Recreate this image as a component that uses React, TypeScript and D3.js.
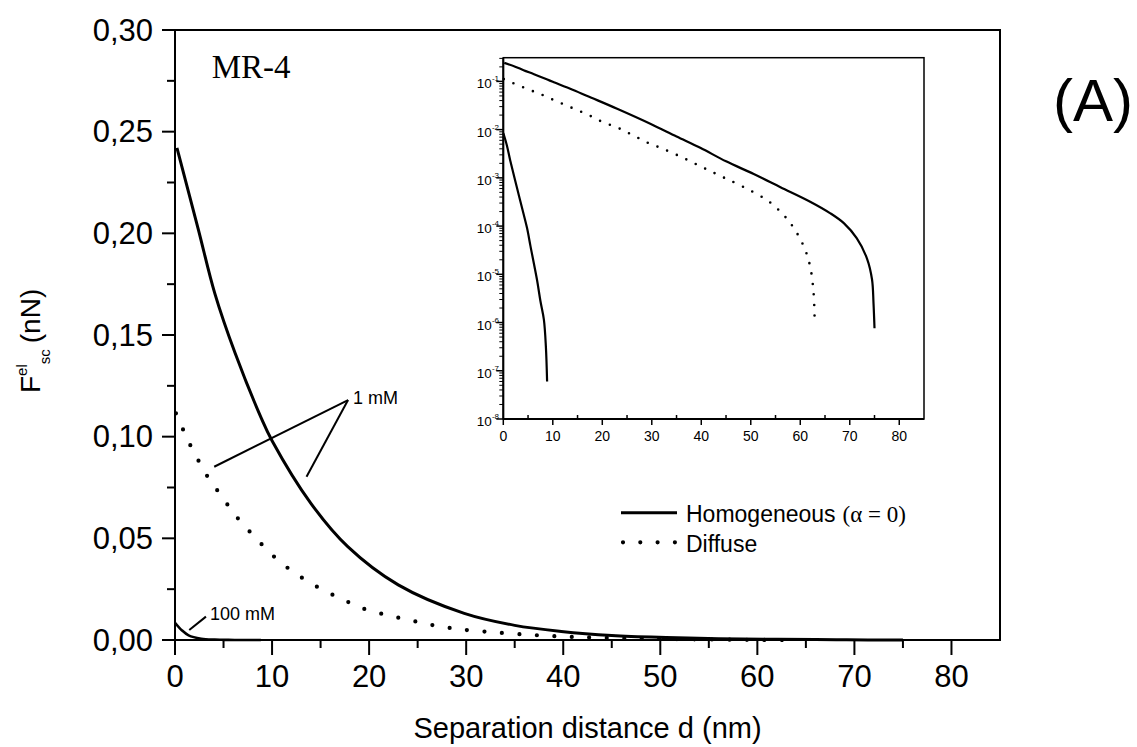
import React from "react";
import * as d3 from "d3";

// ---- data (separation distance d in nm, force in nN) ----
const homX = [0.2, 2.4, 4.1, 6.2, 8.9, 10, 14.0, 17.8, 23, 29.8, 35, 39.8, 45, 50.6, 56, 62, 66, 68.8, 71.4, 73.5, 74.5, 74.8, 75];
const homY = [0.242, 0.202, 0.1705, 0.141, 0.109, 0.098, 0.0672, 0.0459, 0.0271, 0.0131, 0.0072, 0.0042, 0.0022, 0.0012, 0.00064, 0.00032, 0.000186, 0.000115, 0.000056, 0.000021, 0.0000078, 0.0000025, 0.00000076];

const difX = [0.1, 0.85, 1.65, 2.57, 3.53, 4.8, 6.0, 7.4, 9.0, 10.6, 12.3, 14.0, 15.7, 17.4, 19.0, 20.75, 22.5, 24.2, 25.7, 27.4, 29.1, 32, 36, 40, 44, 48.6, 53.9, 58, 60.7, 62, 62.7, 62.9];
const difY = [0.1115, 0.1033, 0.0951, 0.0869, 0.079, 0.0708, 0.0626, 0.0549, 0.0467, 0.0393, 0.0331, 0.0279, 0.0235, 0.0197, 0.0161, 0.0136, 0.0115, 0.0098, 0.0081, 0.0066, 0.0054, 0.0041, 0.0027, 0.0017, 0.00108, 0.00064, 0.00031, 0.000115, 0.000038, 0.0000145, 0.000004, 0.00000115];

const h100X = [0, 0.7, 1.4, 2.7, 4.1, 4.8, 5.5, 6.8, 7.5, 8.2, 8.6, 8.85];
const h100Y = [0.0085, 0.0048, 0.0023, 0.00066, 0.000178, 0.000091, 0.000038, 0.0000078, 0.0000028, 0.00000115, 0.00000032, 0.00000006];

const xTicksMain = [0, 10, 20, 30, 40, 50, 60, 70, 80];
const xMinorMain = [5, 15, 25, 35, 45, 55, 65, 75];
const yTicksMain = [0, 0.05, 0.1, 0.15, 0.2, 0.25, 0.3];
const yMinorMain = [0.025, 0.075, 0.125, 0.175, 0.225, 0.275];
const xTicksInset = [0, 10, 20, 30, 40, 50, 60, 70, 80];
const xMinorInset = [5, 15, 25, 35, 45, 55, 65, 75];
const yExpInset = [-8, -7, -6, -5, -4, -3, -2, -1];

// annotation anchor points in data units
const ann1mM = { text: "1 mM", tip: [17.83, 0.118], ends: [[4.04, 0.0852], [13.55, 0.0803]], label: [18.34, 0.1163] };
const ann100mM = { text: "100 mM", from: [1.47, 0.0049], to: [3.19, 0.0115], label: [3.6, 0.0098] };

const SANS = "'Liberation Sans', Arial, Helvetica, sans-serif";
const SERIF = "'Liberation Serif', 'Times New Roman', serif";

export default function App() {
  const W = 1137, H = 747;
  const x = d3.scaleLinear().domain([0, 85]).range([175, 1000]);
  const y = d3.scaleLinear().domain([0, 0.3]).range([640, 30]);
  const xi = d3.scaleLinear().domain([0, 85]).range([503.3, 924]);
  const yi = d3.scaleLog().domain([1e-8, 0.31]).range([419, 57.7]);

  const zip = (a: number[], b: number[]) => a.map((v, i) => [v, b[i]] as [number, number]);
  const lineMain = d3.line<[number, number]>().x(d => x(d[0])).y(d => y(d[1])).curve(d3.curveCatmullRom.alpha(0.5));
  const lineIn = d3.line<[number, number]>().x(d => xi(d[0])).y(d => yi(d[1])).curve(d3.curveCatmullRom.alpha(0.5));

  const hom = zip(homX, homY);
  const dif = zip(difX, difY);
  const h100 = zip(h100X, h100Y);
  const fmt = (v: number) => d3.format(".2f")(v).replace(".", ",");

  const yMinorInset: number[] = [];
  for (let e = -8; e < 0; e++) for (let k = 2; k <= 9; k++) { const v = k * Math.pow(10, e); if (v <= 0.31) yMinorInset.push(v); }

  const [x0, y0] = [x.range()[0], y.range()[0]];
  const [x1, y1] = [x.range()[1], y.range()[1]];

  return (
    <svg width={W} height={H} style={{ position: "absolute", left: 0, top: 0, background: "#fff" }} fontFamily={SANS}>
      <rect x={0} y={0} width={W} height={H} fill="#fff" />
      <defs>
        <clipPath id="mainClip"><rect x={x0} y={y1} width={x1 - x0} height={y0 - y1 + 2} /></clipPath>
      </defs>

      {/* main curves */}
      <g clipPath="url(#mainClip)" fill="none" stroke="#000">
        <path d={lineMain(hom) || ""} strokeWidth={3} />
        <path d={lineMain(h100) || ""} strokeWidth={2.6} />
        <path d={lineMain(dif) || ""} strokeWidth={4.2} strokeDasharray="0 17.5" strokeLinecap="round" />
      </g>

      {/* main frame */}
      <rect x={x0} y={y1} width={x1 - x0} height={y0 - y1} fill="none" stroke="#000" strokeWidth={2} />

      {/* main x ticks */}
      {xTicksMain.map(t => (
        <g key={"xm" + t}>
          <line x1={x(t)} x2={x(t)} y1={y0} y2={y0 + 15} stroke="#000" strokeWidth={2} />
          <text x={x(t)} y={687} fontSize={31} textAnchor="middle">{t}</text>
        </g>
      ))}
      {xMinorMain.map(t => <line key={"xmm" + t} x1={x(t)} x2={x(t)} y1={y0} y2={y0 + 8} stroke="#000" strokeWidth={2} />)}
      {yTicksMain.map(t => (
        <g key={"ym" + t}>
          <line x1={x0 - 13} x2={x0} y1={y(t)} y2={y(t)} stroke="#000" strokeWidth={2} />
          <text x={153} y={y(t) + 10.8} fontSize={31} textAnchor="end">{fmt(t)}</text>
        </g>
      ))}
      {yMinorMain.map(t => <line key={"ymm" + t} x1={x0 - 8} x2={x0} y1={y(t)} y2={y(t)} stroke="#000" strokeWidth={2} />)}

      {/* axis titles */}
      <text x={(x0 + x1) / 2} y={738} fontSize={29} textAnchor="middle">Separation distance d (nm)</text>
      <text transform="translate(40,393) rotate(-90)" fontSize={28}>
        F<tspan fontSize={15} dy={-13}>el</tspan><tspan fontSize={15} dy={23}>sc</tspan><tspan dy={-10} dx={6}>(nN)</tspan>
      </text>

      {/* annotations */}
      <g stroke="#000" strokeWidth={2}>
        {ann1mM.ends.map((e, i) => (
          <line key={"a" + i} x1={x(e[0])} y1={y(e[1])} x2={x(ann1mM.tip[0])} y2={y(ann1mM.tip[1])} />
        ))}
        <line x1={x(ann100mM.from[0])} y1={y(ann100mM.from[1])} x2={x(ann100mM.to[0])} y2={y(ann100mM.to[1])} />
      </g>
      <text x={x(ann1mM.label[0])} y={y(ann1mM.label[1])} fontSize={18}>{ann1mM.text}</text>
      <text x={x(ann100mM.label[0])} y={y(ann100mM.label[1])} fontSize={18}>{ann100mM.text}</text>

      <text x={211.7} y={78.3} fontSize={33} fontFamily={SERIF}>MR-4</text>
      <text x={1053} y={120.5} fontSize={60}>(A)</text>

      {/* legend */}
      <line x1={621} x2={677} y1={512.7} y2={512.7} stroke="#000" strokeWidth={3} />
      <text x={686} y={521.7} fontSize={23}>Homogeneous<tspan dx={7} fontFamily={SERIF}>(α = 0)</tspan></text>
      <line x1={623} x2={680} y1={542.3} y2={542.3} stroke="#000" strokeWidth={4.2} strokeDasharray="0 17.3" strokeLinecap="round" />
      <text x={686} y={551.7} fontSize={23}>Diffuse</text>

      {/* inset */}
      <rect x={xi.range()[0]} y={yi.range()[1]} width={xi.range()[1] - xi.range()[0]} height={yi.range()[0] - yi.range()[1]} fill="#fff" stroke="#000" strokeWidth={1.5} />
      <g fill="none" stroke="#000">
        <path d={lineIn(hom) || ""} strokeWidth={2.2} />
        <path d={lineIn(h100) || ""} strokeWidth={2.2} />
        <path d={lineIn(dif) || ""} strokeWidth={2.6} strokeDasharray="0 10.5" strokeLinecap="round" />
      </g>
      <line x1={xi.range()[0]} x2={xi.range()[0]} y1={yi.range()[0]} y2={yi.range()[1]} stroke="#000" strokeWidth={2} />
      <line x1={xi.range()[0]} x2={xi.range()[1]} y1={yi.range()[0]} y2={yi.range()[0]} stroke="#000" strokeWidth={2} />
      {xTicksInset.map(t => (
        <g key={"xi" + t}>
          <line x1={xi(t)} x2={xi(t)} y1={419} y2={425} stroke="#000" strokeWidth={1.5} />
          <text x={xi(t)} y={441} fontSize={14} textAnchor="middle">{t}</text>
        </g>
      ))}
      {xMinorInset.map(t => <line key={"xim" + t} x1={xi(t)} x2={xi(t)} y1={419} y2={415} stroke="#000" strokeWidth={1.5} />)}
      {yExpInset.map(e => {
        const v = Math.pow(10, e);
        return (
          <g key={"yi" + e}>
            <line x1={xi.range()[0] - 7} x2={xi.range()[0]} y1={yi(v)} y2={yi(v)} stroke="#000" strokeWidth={1.5} />
            <text x={499} y={yi(v) + 7} fontSize={13.5} textAnchor="end">10<tspan fontSize={8} dy={-7}>{String(e)}</tspan></text>
          </g>
        );
      })}
      {yMinorInset.map((v, i) => <line key={"yim" + i} x1={xi.range()[0] - 4} x2={xi.range()[0]} y1={yi(v)} y2={yi(v)} stroke="#000" strokeWidth={1} />)}
    </svg>
  );
}
